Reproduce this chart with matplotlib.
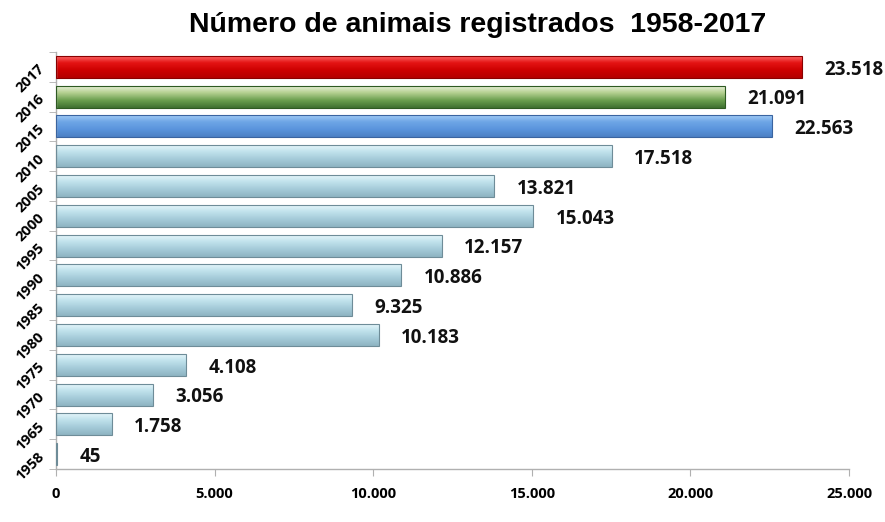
import numpy as np
import matplotlib
matplotlib.use("Agg")
import matplotlib.pyplot as plt
import matplotlib.colors as mcolors
from matplotlib.patches import Rectangle
from matplotlib.ticker import FuncFormatter

# dados
anos = ["1958", "1965", "1970", "1975", "1980", "1985", "1990",
        "1995", "2000", "2005", "2010", "2015", "2016", "2017"]
animais = [45, 1758, 3056, 4108, 10183, 9325, 10886,
           12157, 15043, 13821, 17518, 22563, 21091, 23518]
rotulos = ["45", "1.758", "3.056", "4.108", "10.183", "9.325", "10.886",
           "12.157", "15.043", "13.821", "17.518", "22.563", "21.091", "23.518"]

# gradientes (topo -> base)
GRAD = {
    "azul_claro": ["#eaf8fc", "#c0e2ec", "#a4cad8", "#8eb4c2"],
    "azul":       ["#a8d0f8", "#6ea6e6", "#5a94dc", "#4c80c4"],
    "verde":      ["#eef4e0", "#b4d090", "#6a9e4e", "#3e7030"],
    "vermelho":   ["#ff7070", "#e41414", "#cc0000", "#b40000"],
}
EDGE = {"azul_claro": "#6e8c98", "azul": "#3a64a0",
        "verde": "#2e5a22", "vermelho": "#8a0000"}

def estilo(ano):
    if ano == "2017": return "vermelho"
    if ano == "2016": return "verde"
    if ano == "2015": return "azul"
    return "azul_claro"

fig = plt.figure(figsize=(8.85, 5.22), dpi=100)
ax = fig.add_axes([0.0633, 0.1015, 0.896, 0.799])

altura = 0.74
for i, (ano, v) in enumerate(zip(anos, animais)):
    key = estilo(ano)
    cmap = mcolors.LinearSegmentedColormap.from_list(key, GRAD[key])
    grad = np.linspace(1, 0, 64).reshape(-1, 1)
    y0, y1 = i - altura / 2, i + altura / 2
    im = ax.imshow(grad, cmap=cmap, aspect="auto",
                   extent=[0, v, y0, y1], origin="lower", zorder=2)
    rect = Rectangle((0, y0), v, altura, facecolor="none",
                     edgecolor=EDGE[key], linewidth=0.8, zorder=3)
    ax.add_patch(rect)
    im.set_clip_path(rect)
    ax.annotate(rotulos[i], xy=(v, i), xytext=(16, -2),
                textcoords="offset points", va="center", ha="left",
                fontsize=13.5, fontweight="bold", family="Open Sans",
                color="#111111")

ax.set_xlim(0, 25000)
ax.set_ylim(-0.5, len(anos) - 0.5)
ax.set_xticks(np.arange(0, 25001, 5000))
ax.xaxis.set_major_formatter(FuncFormatter(lambda x, p: f"{int(x):,}".replace(",", ".")))
ax.set_yticks(np.arange(len(anos)))
ax.set_yticklabels(anos)
ax.set_yticks(np.arange(-0.5, len(anos), 1), minor=True)
ax.tick_params(axis="y", which="major", length=0, pad=10)
ax.tick_params(axis="y", which="minor", length=5, color="#b0b0b0")
ax.tick_params(axis="x", length=5, color="#b0b0b0", pad=8)

for lab in ax.get_yticklabels():
    lab.set_rotation(45)
    lab.set_fontsize(10.5)
    lab.set_fontweight("bold")
    lab.set_family("Open Sans")
    lab.set_ha("right")
    lab.set_va("center")
    lab.set_rotation_mode("anchor")
for lab in ax.get_xticklabels():
    lab.set_fontsize(10.5)
    lab.set_fontweight("bold")
    lab.set_family("Open Sans")

for s in ["top", "right"]:
    ax.spines[s].set_visible(False)
for s in ["left", "bottom"]:
    ax.spines[s].set_color("#b0b0b0")
    ax.spines[s].set_linewidth(1.0)

fig.text(0.54, 0.952, "Número de animais registrados  1958-2017",
         ha="center", va="center", fontsize=20.5, fontweight="bold",
         family="Liberation Sans")

plt.savefig("out.png", dpi=100)
plt.close()
